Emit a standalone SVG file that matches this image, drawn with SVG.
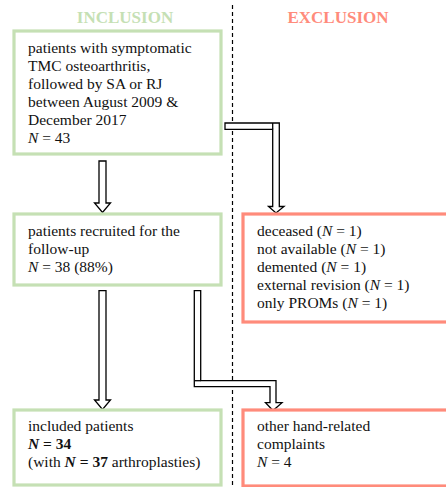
<svg xmlns="http://www.w3.org/2000/svg" width="446" height="487" viewBox="0 0 446 487">
<style>
.t{font-family:"Liberation Serif","Times New Roman",serif;font-size:15.5px;fill:#111}
.h{font-family:"Liberation Serif","Times New Roman",serif;font-size:17px;font-weight:bold;text-anchor:middle}
.g{fill:#fff;stroke:#c5e0b4;stroke-width:3.2}
.r{fill:#fff;stroke:#ff8b7b;stroke-width:3.2}
.a{fill:#fff;stroke:#000;stroke-width:1.3;stroke-linejoin:miter}
.i{font-style:italic}
.b{font-weight:bold}
</style>
<rect width="446" height="487" fill="#fff"/>
<text class="h" x="125" y="23" fill="#c5e0b4">INCLUSION</text>
<text class="h" x="338" y="23" fill="#ff8b7b">EXCLUSION</text>
<line x1="232.5" y1="5" x2="232.5" y2="487" stroke="#000" stroke-width="1.2" stroke-dasharray="4 3"/>
<g id="connectors">
<polygon class="a" points="99,161 106,161 106,203 110.5,203 102.5,212.5 94.5,203 99,203"/>
<polygon class="a" points="225,123 279.3,123 279.3,206.5 284,206.5 276,213 268.5,206.5 272.7,206.5 272.7,129.3 225,129.3"/>
<line class="a" x1="272.7" y1="123" x2="272.7" y2="129.3"/>
<polygon class="a" points="99,290.7 106,290.7 106,400 110.5,400 102.5,409.5 94.5,400 99,400"/>
<polygon class="a" points="194.3,290.7 200.7,290.7 200.7,380.7 276,380.7 276,402.7 282,402.7 273,410.5 265.5,402.7 270,402.7 270,386.7 194.3,386.7"/>
<line class="a" x1="194.3" y1="380.7" x2="200.7" y2="380.7"/>
</g>
<g id="n1">
<rect class="g" x="14" y="31" width="207" height="123"/>
<text class="t" x="28" y="53">patients with symptomatic</text>
<text class="t" x="28" y="71">TMC osteoarthritis,</text>
<text class="t" x="28" y="89">followed by SA or RJ</text>
<text class="t" x="28" y="107">between August 2009 &amp;</text>
<text class="t" x="28" y="124.5">December 2017</text>
<text class="t" x="28" y="142.5"><tspan class="i">N</tspan> = 43</text>
</g>
<g id="n2">
<rect class="g" x="14" y="214" width="207" height="71"/>
<text class="t" x="28" y="236">patients recruited for the</text>
<text class="t" x="28" y="254">follow-up</text>
<text class="t" x="28" y="272"><tspan class="i">N</tspan> = 38 (88%)</text>
</g>
<g id="n3">
<rect class="g" x="14" y="410" width="207" height="75"/>
<text class="t" x="28" y="431">included patients</text>
<text class="t" x="28" y="449"><tspan class="b i">N</tspan><tspan class="b"> = 34</tspan></text>
<text class="t" x="28" y="467">(with <tspan class="b i">N</tspan><tspan class="b"> = 37</tspan> arthroplasties)</text>
</g>
<g id="e1">
<rect class="r" x="243" y="214" width="210" height="108"/>
<text class="t" x="257" y="236">deceased (<tspan class="i">N</tspan> = 1)</text>
<text class="t" x="257" y="254">not available (<tspan class="i">N</tspan> = 1)</text>
<text class="t" x="257" y="272">demented (<tspan class="i">N</tspan> = 1)</text>
<text class="t" x="257" y="290">external revision (<tspan class="i">N</tspan> = 1)</text>
<text class="t" x="257" y="307.5">only PROMs (<tspan class="i">N</tspan> = 1)</text>
</g>
<g id="e2">
<rect class="r" x="243" y="410" width="210" height="76"/>
<text class="t" x="257" y="431">other hand-related</text>
<text class="t" x="257" y="449">complaints</text>
<text class="t" x="257" y="467"><tspan class="i">N</tspan> = 4</text>
</g>
</svg>
